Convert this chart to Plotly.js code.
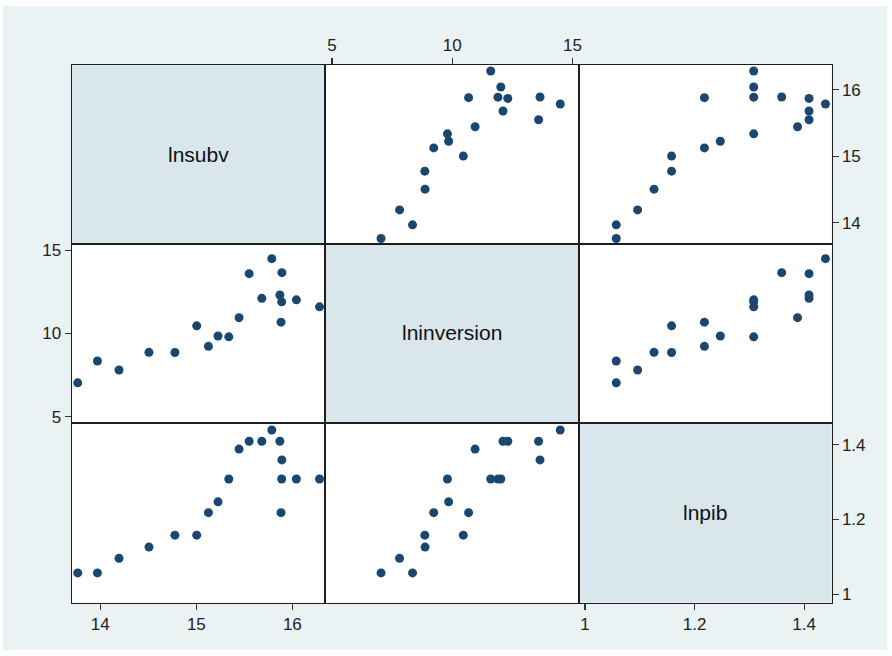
<!DOCTYPE html>
<html>
<head>
<meta charset="utf-8">
<script src="https://cdn.plot.ly/plotly-3.0.1.min.js"></script>
<style>html,body{margin:0;padding:0;background:#fff;}#chart{width:892px;height:656px;}</style>
</head>
<body>
<div id="chart"></div>
<script>
// Variables (one value per observation)
var varNames = ["lnsubv", "lninversion", "lnpib"];
var lnsubv      = [13.765, 13.97, 14.195, 14.507, 14.777, 15.004, 15.126, 15.226, 15.338, 15.445, 15.55, 15.682, 15.786, 15.87, 15.891, 15.889, 16.042, 16.283, 15.882];
var lninversion = [7.04, 8.35, 7.81, 8.87, 8.86, 10.46, 9.23, 9.85, 9.80, 10.95, 13.59, 12.11, 14.49, 12.31, 13.65, 11.90, 12.02, 11.60, 10.68];
var lnpib       = [1.057, 1.057, 1.096, 1.126, 1.158, 1.158, 1.218, 1.247, 1.308, 1.388, 1.409, 1.409, 1.439, 1.409, 1.359, 1.308, 1.308, 1.308, 1.218];
var tickVals = [[14, 15, 16], [5, 10, 15], [1, 1.2, 1.4]];
var tickText = [["14", "15", "16"], ["5", "10", "15"], ["1", "1.2", "1.4"]];

var vars = [lnsubv, lninversion, lnpib];
var W = 892, H = 656;
var colPx = [[71.5, 325], [325, 579], [579, 831.5]];
var rowPx = [[64.5, 243.5], [243.5, 422.5], [422.5, 602.5]];
var colRange = [[13.70, 16.34], [4.71, 15.27], [0.989, 1.450]];
var rowRange = [[13.69, 16.38], [4.66, 15.40], [0.978, 1.459]];

var font = {family: "Liberation Sans, Arial, sans-serif", size: 17, color: "#222"};
var traces = [];
var layout = {
  width: W, height: H,
  margin: {l: 0, r: 0, t: 0, b: 0},
  paper_bgcolor: "#ffffff",
  plot_bgcolor: "rgba(0,0,0,0)",
  showlegend: false,
  font: font,
  shapes: [],
  annotations: []
};
layout.shapes.push({type: "rect", xref: "paper", yref: "paper", layer: "below",
  x0: 3 / W, x1: 887 / W, y0: 1 - 650 / H, y1: 1 - 6 / H,
  fillcolor: "#EAF2F3", line: {width: 0}});

var k = 0;
for (var r = 0; r < 3; r++) {
  for (var c = 0; c < 3; c++) {
    k++;
    var xa = "xaxis" + (k === 1 ? "" : k), ya = "yaxis" + (k === 1 ? "" : k);
    var xn = "x" + (k === 1 ? "" : k), yn = "y" + (k === 1 ? "" : k);
    var xd = [colPx[c][0] / W, colPx[c][1] / W];
    var yd = [1 - rowPx[r][1] / H, 1 - rowPx[r][0] / H];
    var xTicks = (r === 2 && (c === 0 || c === 2)) || (r === 0 && c === 1);
    var yTicks = (c === 2 && (r === 0 || r === 2)) || (c === 0 && r === 1);
    layout[xa] = {
      domain: xd, anchor: yn, range: colRange[c], fixedrange: true,
      showgrid: false, zeroline: false, showline: true, mirror: true,
      linecolor: "#1e1e1e", linewidth: 1,
      side: (r === 0 && c === 1) ? "top" : "bottom",
      tickmode: "array", tickvals: xTicks ? tickVals[c] : [], ticktext: xTicks ? tickText[c] : [],
      ticks: xTicks ? "outside" : "", ticklen: 6, tickwidth: 1.2, tickcolor: "#333",
      showticklabels: xTicks, tickfont: font
    };
    layout[ya] = {
      domain: yd, anchor: xn, range: rowRange[r], fixedrange: true,
      showgrid: false, zeroline: false, showline: true, mirror: true,
      linecolor: "#1e1e1e", linewidth: 1,
      side: (c === 2) ? "right" : "left",
      tickmode: "array", tickvals: yTicks ? tickVals[r] : [], ticktext: yTicks ? tickText[r] : [],
      ticks: yTicks ? "outside" : "", ticklen: 6, tickwidth: 1.2, tickcolor: "#333",
      showticklabels: yTicks, tickfont: font
    };
    var fill = (r === c) ? "#D9E6EB" : "#ffffff";
    layout.shapes.push({type: "rect", xref: "paper", yref: "paper", layer: "below",
      x0: xd[0], x1: xd[1], y0: yd[0], y1: yd[1], fillcolor: fill, line: {width: 0}});
    if (r === c) {
      layout.annotations.push({xref: "paper", yref: "paper", x: (xd[0] + xd[1]) / 2, y: (yd[0] + yd[1]) / 2,
        text: varNames[r], showarrow: false, xanchor: "center", yanchor: "middle",
        font: {family: font.family, size: 21, color: "#111"}});
      traces.push({type: "scatter", mode: "markers", x: [null], y: [null], xaxis: xn, yaxis: yn, hoverinfo: "skip"});
    } else {
      traces.push({type: "scatter", mode: "markers", x: vars[c], y: vars[r], xaxis: xn, yaxis: yn,
        marker: {color: "#1a476f", size: 9, line: {width: 0}}, cliponaxis: false});
    }
  }
}
Plotly.newPlot("chart", traces, layout, {displayModeBar: false, staticPlot: true});
</script>
</body>
</html>
